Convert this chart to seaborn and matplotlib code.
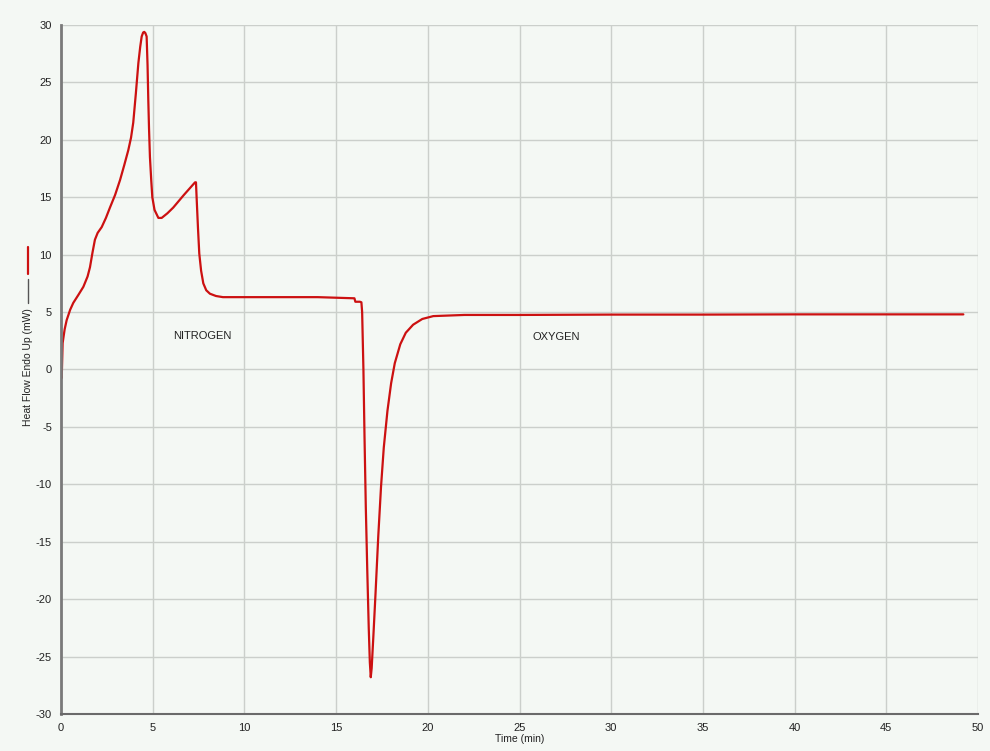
import matplotlib
matplotlib.use("Agg")
import matplotlib.pyplot as plt
from matplotlib.lines import Line2D
import numpy as np
import pandas as pd
import seaborn as sns

# DSC trace: time (min) vs heat flow (mW), endo up
time_min = [0.00, 0.04, 0.09, 0.20, 0.31, 0.50, 0.67, 0.95, 1.22, 1.45, 1.58, 1.72,
            1.85, 2.00, 2.22, 2.45, 2.67, 2.95, 3.22, 3.45, 3.67, 3.82, 3.94, 4.08,
            4.22, 4.32, 4.40, 4.48, 4.54, 4.60, 4.67, 4.72, 4.76, 4.80, 4.85, 4.92,
            4.98, 5.10, 5.31, 5.49, 5.80, 6.12, 6.70, 7.31, 7.36, 7.40, 7.47, 7.54,
            7.64, 7.76, 7.92, 8.12, 8.45, 8.83, 10.0, 12.0, 14.0, 15.0, 16.0, 16.05,
            16.30, 16.38, 16.42, 16.49, 16.55, 16.62, 16.70, 16.78, 16.84, 16.89,
            16.94, 17.03, 17.15, 17.30, 17.45, 17.60, 17.80, 18.00, 18.20, 18.50,
            18.80, 19.20, 19.70, 20.30, 22.0, 25.0, 30.0, 35.0, 40.0, 45.0, 49.2]
heat_flow = [-0.6, -0.75, 2.3, 3.5, 4.3, 5.2, 5.8, 6.5, 7.2, 8.1, 8.9, 10.2,
             11.3, 11.9, 12.4, 13.2, 14.1, 15.2, 16.5, 17.8, 19.1, 20.2, 21.5, 24.0,
             26.7, 28.1, 29.0, 29.35, 29.4, 29.3, 29.0, 26.5, 23.5, 21.0, 18.5, 16.5,
             15.0, 13.9, 13.2, 13.2, 13.6, 14.1, 15.2, 16.3, 16.3, 14.8, 12.3, 10.1,
             8.6, 7.5, 6.9, 6.6, 6.4, 6.3, 6.3, 6.3, 6.3, 6.25, 6.2, 5.9,
             5.9, 5.85, 5.0, 0.0, -5.9, -12.0, -17.5, -22.5, -25.5, -26.8,
             -26.0, -23.3, -19.5, -14.5, -10.2, -6.8, -3.6, -1.2, 0.55, 2.2,
             3.2, 3.9, 4.4, 4.65, 4.75, 4.75, 4.78, 4.78, 4.8, 4.8, 4.8]

x_ticks = [0, 5, 10, 15, 20, 25, 30, 35, 40, 45, 50]
y_ticks = [-30, -25, -20, -15, -10, -5, 0, 5, 10, 15, 20, 25, 30]
gas_labels = ["NITROGEN", "OXYGEN"]
gas_label_x = [7.7, 27.0]
gas_label_y = [2.9, 2.8]

df = pd.DataFrame({"Time (min)": time_min, "Heat Flow": heat_flow})

sns.set_style("white")
plt.rcParams["font.family"] = ["Liberation Sans", "DejaVu Sans"]
plt.rcParams["axes.unicode_minus"] = False

bg = "#f4f8f4"
fig = plt.figure(figsize=(9.9, 7.51), dpi=100, facecolor=bg)
ax = fig.add_axes([0.0616, 0.0493, 0.9263, 0.9174])
ax.set_facecolor(bg)

sns.lineplot(data=df, x="Time (min)", y="Heat Flow", ax=ax, color="#cc1111",
             linewidth=1.6, sort=False, estimator=None)

ax.set_xlim(0, 50)
ax.set_ylim(-30, 30)
ax.set_xticks(x_ticks)
ax.set_yticks(y_ticks)
ax.grid(True, color="#cbcfcb", linewidth=1.0)
ax.set_axisbelow(True)

for side in ("top", "right"):
    ax.spines[side].set_visible(False)
ax.spines["left"].set_color("#7a7a7a")
ax.spines["left"].set_linewidth(2.0)
ax.spines["bottom"].set_color("#6a6a6a")
ax.spines["bottom"].set_linewidth(1.5)

ax.tick_params(axis="both", direction="out", length=4, width=1, color="#555555",
               labelsize=8, labelcolor="#222222", pad=2.5)

ax.set_xlabel("Time (min)", fontsize=7.5, color="#222222", labelpad=0.5)
ax.set_ylabel("")

for lbl, lx, ly in zip(gas_labels, gas_label_x, gas_label_y):
    ax.text(lx, ly, lbl, fontsize=8, color="#222222", ha="center", va="center")

# rotated y label followed by the series key lines
fig.text(28 / 990, 1 - 367 / 751, "Heat Flow Endo Up (mW)", rotation=90,
         fontsize=7.5, color="#222222", ha="center", va="center")
fig.add_artist(Line2D([28 / 990, 28 / 990], [1 - 303 / 751, 1 - 279 / 751],
                      color="#555555", linewidth=1.0))
fig.add_artist(Line2D([28 / 990, 28 / 990], [1 - 274 / 751, 1 - 247 / 751],
                      color="#cc1111", linewidth=1.6))

fig.savefig("out.png", dpi=100, facecolor=bg)
